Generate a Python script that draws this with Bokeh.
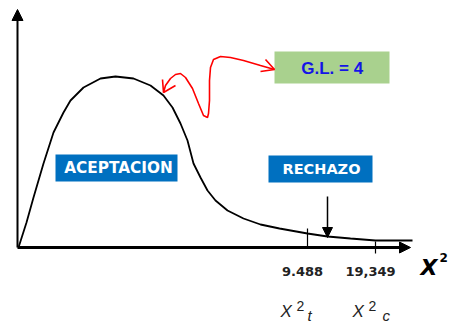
from bokeh.plotting import figure
from bokeh.models import Range1d, Arrow, NormalHead, Label
from bokeh.embed import file_html
from bokeh.resources import INLINE

# chi-square density sketch (schematic diagram units)
curve_x = [1, 9, 16, 26, 36, 46, 53, 66, 83, 98, 116, 133, 146, 155, 163, 170, 176,
           183, 190, 198, 210, 226, 243, 262, 290, 310, 333, 358, 395]
curve_y = [0, 25, 50, 84, 115, 135, 147, 160, 169, 171, 169, 162, 152, 140, 124, 107,
           84, 70, 57, 47, 37, 29, 23, 19, 14, 11, 9, 7, 7]

# critical values on the x axis
tick_pos = [290, 358]
tick_labels = ["9.488", "19,349"]
tick_lo = [0, -6]
tick_hi = [19, 6]

# red squiggly pointer from the "G.L. = 4" box to the curve
squig_x = [257, 243, 226, 213, 203, 196, 193, 192, 192, 191, 190, 186, 181, 175, 168,
           163, 158, 153, 148, 146]
squig_y = [178, 182, 187, 190, 191, 188, 180, 167, 147, 134, 130, 132, 144, 159, 170,
           174, 173, 169, 162, 155]
head_xs = [[145, 146, 158], [248, 257, 243]]
head_ys = [[168, 155, 162], [188, 178, 176]]

region_labels = ["ACEPTACION", "RECHAZO"]
gl_label = "G.L.  = 4"

p = figure(width=450, height=326, x_range=Range1d(-17, 433), y_range=Range1d(-79, 247),
           output_backend="svg", toolbar_location=None, min_border=0,
           x_axis_type=None, y_axis_type=None)
p.grid.visible = False
p.outline_line_color = None
p.background_fill_color = "white"

# axes with arrows
p.add_layout(Arrow(end=NormalHead(size=11, fill_color="black", line_color="black"),
                   x_start=0, y_start=0, x_end=0, y_end=238,
                   line_width=2, line_color="black"))
p.add_layout(Arrow(end=NormalHead(size=11, fill_color="black", line_color="black"),
                   x_start=0, y_start=0, x_end=393, y_end=0,
                   line_width=3, line_color="black"))

# curve
p.line(curve_x, curve_y, line_color="black", line_width=1.8)

# ticks
p.segment(x0=tick_pos, y0=tick_lo, x1=tick_pos, y1=tick_hi, line_color="black", line_width=1.2)
for xp, lab in zip(tick_pos, tick_labels):
    p.add_layout(Label(x=xp - 5, y=-24, text=lab, text_font="DejaVu Sans",
                       text_font_style="bold", text_font_size="13px", text_color="#222222",
                       text_align="center", text_baseline="middle"))

# down arrow to rejection region
p.add_layout(Arrow(end=NormalHead(size=10, fill_color="black", line_color="black"),
                   x_start=310, y_start=51, x_end=310, y_end=10,
                   line_width=1.5, line_color="black"))

# boxes
p.quad(left=[38, 251], right=[160, 355], bottom=[66, 65], top=[93, 92],
       fill_color="#0070C0", line_color=None)
p.quad(left=[257], right=[372], bottom=[164], top=[196],
       fill_color="#A9D18E", line_color=None)

p.add_layout(Label(x=101, y=80, text=region_labels[0], text_font="DejaVu Sans",
                   text_font_style="bold", text_font_size="15.3px", text_color="white",
                   text_align="center", text_baseline="middle"))
p.add_layout(Label(x=304, y=79, text=region_labels[1], text_font="DejaVu Sans",
                   text_font_style="bold", text_font_size="14.5px", text_color="white",
                   text_align="center", text_baseline="middle"))
p.add_layout(Label(x=317, y=179, text=gl_label, text_font="Liberation Sans",
                   text_font_style="bold", text_font_size="17px", text_color="#1414E6",
                   text_align="center", text_baseline="middle"))

# red squiggle
p.line(squig_x, squig_y, line_color="red", line_width=1.6)
p.multi_line(head_xs, head_ys, line_color="red", line_width=1.6)

# big X^2 axis label
p.add_layout(Label(x=403, y=-20, text="X", text_font="DejaVu Sans",
                   text_font_style="bold italic", text_font_size="22px", text_color="black",
                   text_align="left", text_baseline="alphabetic"))
p.add_layout(Label(x=422, y=-10, text="2", text_font="DejaVu Sans",
                   text_font_style="bold", text_font_size="12px", text_color="black",
                   text_align="left", text_baseline="alphabetic"))

# X^2_t and X^2_c
for xl, sub in [(263, "t"), (335, "c")]:
    p.add_layout(Label(x=xl, y=-64, text="X", text_font="Liberation Sans",
                       text_font_style="italic", text_font_size="17px", text_color="#222222",
                       text_align="left", text_baseline="alphabetic"))
    p.add_layout(Label(x=xl + 16, y=-58, text="2", text_font="Liberation Sans",
                       text_font_size="14px", text_color="#222222",
                       text_align="left", text_baseline="alphabetic"))
    p.add_layout(Label(x=xl + 27 + (3 if sub == "c" else 0), y=-68, text=sub,
                       text_font="Liberation Sans",
                       text_font_style="italic", text_font_size="15px", text_color="#222222",
                       text_align="left", text_baseline="alphabetic"))

open("out.html", "w").write(file_html(p, INLINE))
